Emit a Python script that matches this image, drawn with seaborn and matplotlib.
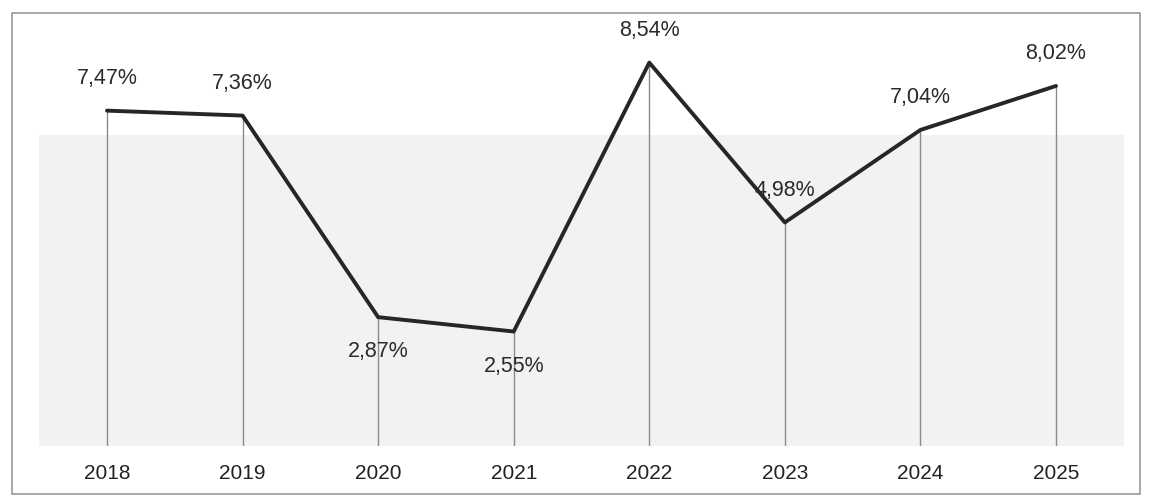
import matplotlib
matplotlib.use("Agg")
import matplotlib.pyplot as plt
import seaborn as sns
import pandas as pd
from matplotlib.patches import Rectangle

years = ["2018", "2019", "2020", "2021", "2022", "2023", "2024", "2025"]
values = [7.47, 7.36, 2.87, 2.55, 8.54, 4.98, 7.04, 8.02]
labels = ["7,47%", "7,36%", "2,87%", "2,55%", "8,54%", "4,98%", "7,04%", "8,02%"]
label_below = [False, False, True, True, False, False, False, False]

sns.set_theme(style="white")
plt.rcParams["font.family"] = ["Liberation Sans", "DejaVu Sans"]

df = pd.DataFrame({"year": years, "value": values})
df["x"] = range(len(years))

fig = plt.figure(figsize=(11.51, 5.0), dpi=100)
fig.patch.set_facecolor("white")

# outer border of the chart area
fig.patches.append(Rectangle((12 / 1151, 6 / 500), 1128 / 1151, 481 / 500,
                             transform=fig.transFigure, fill=False,
                             edgecolor="#9a9a9a", linewidth=1.2))

ax = fig.add_axes([39.2 / 1151, 54 / 500, 1084.6 / 1151, 426.5 / 500])
ax.set_xlim(-0.5, len(years) - 0.5)
ax.set_ylim(0, 9.5)

# faint scanned-paper shading
ax.add_patch(Rectangle((0, 0), 1, 0.73, transform=ax.transAxes,
                       facecolor="#f2f2f3", edgecolor="none", zorder=0))

# drop lines from each point to the baseline
ax.vlines(df["x"], 0, df["value"], color="#8a8a8a", linewidth=1.0, zorder=1)

sns.lineplot(data=df, x="x", y="value", ax=ax, color="#262626",
             linewidth=2.8, zorder=3, legend=False)

for xi, v, lab, below in zip(df["x"], values, labels, label_below):
    ax.annotate(lab, (xi, v), xytext=(0, -25 if below else 23),
                textcoords="offset points", ha="center", va="center",
                fontsize=15.5, color="#2a2a2a", fontweight="medium")

ax.set_xticks(df["x"])
ax.set_xticklabels(years, fontsize=15, color="#222222", fontweight="medium")
ax.tick_params(axis="x", length=0, pad=13)
ax.set_yticks([])
ax.set_xlabel("")
ax.set_ylabel("")
for s in ax.spines.values():
    s.set_visible(False)

fig.savefig("out.png", dpi=100)
